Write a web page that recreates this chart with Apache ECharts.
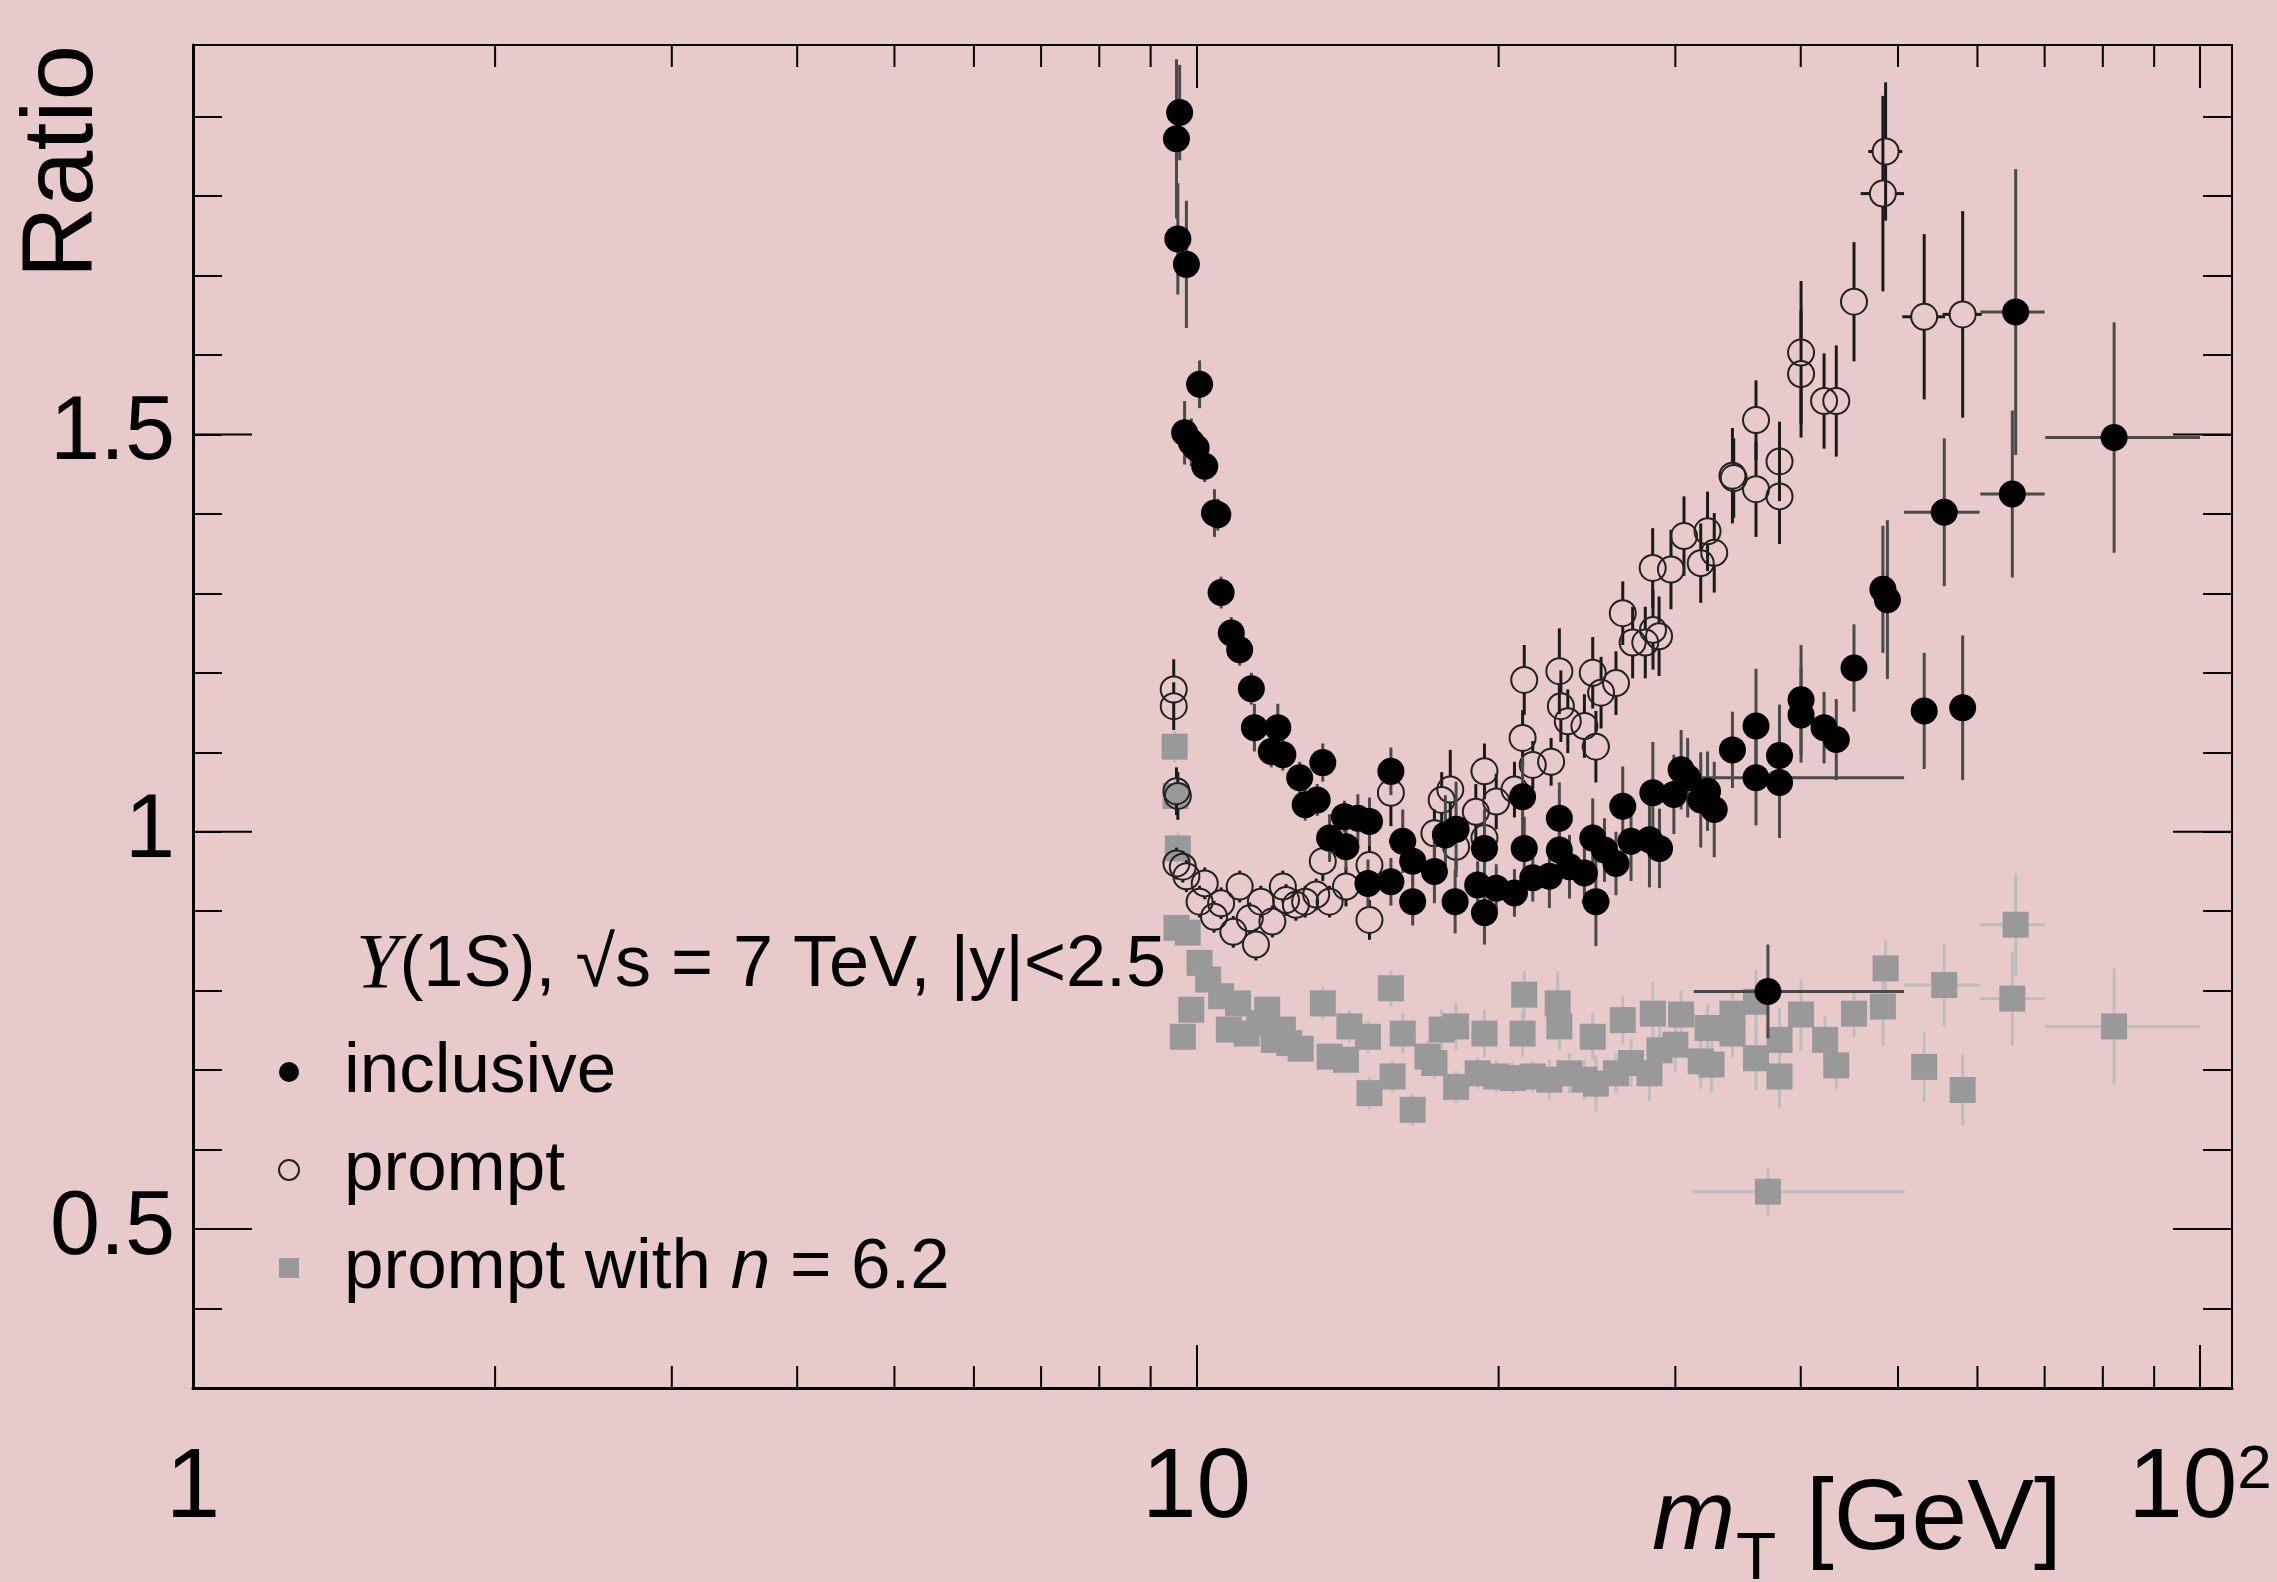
<!DOCTYPE html>
<html><head><meta charset="utf-8">
<script src="https://cdn.jsdelivr.net/npm/echarts@6/dist/echarts.min.js"></script>
<style>html,body{margin:0;padding:0;background:#E8CACA;}#c{width:2277px;height:1582px;}</style>
</head><body><div id="c"></div>
<script>
// rows: [mT, ratio, yErr, xErrLow, xErrHigh]
const inclusive = [
[9.55,1.872,0.10,0.1,0.1],[9.62,1.905,0.06,0.1,0.1],[9.58,1.746,0.07,0.1,0.1],[9.77,1.714,0.08,0.1,0.1],
[10.07,1.563,0.03,0.1,0.1],[9.73,1.502,0.04,0.1,0.1],[9.88,1.490,0.03,0.1,0.1],[9.99,1.483,0.02,0.1,0.1],
[10.19,1.460,0.02,0.1,0.1],[10.42,1.401,0.03,0.1,0.1],[10.50,1.399,0.02,0.1,0.1],[10.58,1.301,0.02,0.1,0.1],
[10.83,1.250,0.02,0.1,0.1],[11.04,1.229,0.02,0.1,0.1],[11.34,1.180,0.02,0.1,0.1],[11.42,1.131,0.03,0.1,0.1],
[12.05,1.131,0.03,0.1,0.1],[11.87,1.101,0.02,0.1,0.1],[12.19,1.097,0.02,0.1,0.1],[13.36,1.087,0.024,0.2,0.2],
[12.67,1.068,0.02,0.1,0.1],[12.83,1.034,0.02,0.1,0.1],[13.19,1.040,0.02,0.1,0.1],[15.62,1.076,0.03,0.2,0.2],
[14.04,1.019,0.02,0.2,0.2],[14.48,1.017,0.03,0.2,0.2],[14.87,1.013,0.03,0.2,0.2],[13.57,0.992,0.03,0.2,0.2],
[14.09,0.981,0.03,0.2,0.2],[14.82,0.935,0.03,0.2,0.2],[15.62,0.937,0.03,0.2,0.2],[16.05,0.988,0.04,0.5,0.5],
[16.42,0.963,0.03,0.3,0.3],[16.42,0.912,0.03,0.3,0.3],[17.26,0.950,0.04,0.3,0.3],[17.70,0.996,0.05,0.3,0.3],
[18.14,1.003,0.06,0.3,0.3],[18.10,0.912,0.04,0.4,0.4],[19.36,0.979,0.05,0.6,0.6],[19.06,0.933,0.03,0.4,0.4],
[19.89,0.929,0.03,0.4,0.4],[19.36,0.898,0.04,0.4,0.4],[20.74,0.923,0.03,0.4,0.4],[21.13,1.044,0.05,0.6,0.6],
[21.21,0.979,0.04,0.6,0.6],[21.63,0.942,0.03,0.5,0.5],[22.47,0.944,0.04,0.5,0.5],[22.99,1.017,0.045,0.6,0.6],
[22.99,0.977,0.04,0.6,0.6],[23.53,0.956,0.04,0.5,0.5],[24.35,0.948,0.04,0.5,0.5],[24.82,0.992,0.05,0.6,0.6],
[25.00,0.912,0.056,0.8,0.8],[25.50,0.977,0.04,0.6,0.6],[26.18,0.960,0.04,0.6,0.6],[26.59,1.032,0.05,0.6,0.6],
[27.10,0.988,0.05,0.6,0.6],[28.49,1.049,0.064,0.8,0.8],[28.27,0.990,0.06,0.7,0.7],[28.93,0.979,0.05,0.7,0.7],
[29.90,1.047,0.05,0.8,0.8],[30.40,1.078,0.05,0.8,0.8],[30.86,1.068,0.05,0.8,0.8],[31.80,1.040,0.06,0.8,0.8],
[32.30,1.051,0.05,0.8,0.8],[32.80,1.028,0.06,0.8,0.8],[34.20,1.103,0.048,0.8,0.8],[36.10,1.133,0.072,1.0,1.0],
[36.10,1.068,0.06,4.8,14.6],[37.10,0.799,0.059,5.8,13.6],[38.10,1.096,0.064,1.0,1.0],[38.10,1.062,0.07,1.0,1.0],
[40.03,1.166,0.069,1.0,1.0],[40.03,1.147,0.06,1.0,1.0],[42.20,1.131,0.045,1.0,1.0],[43.40,1.116,0.051,1.2,1.2],
[45.20,1.206,0.055,1.0,1.0],[48.30,1.305,0.08,1.2,1.2],[48.80,1.292,0.10,1.0,1.0],[53.10,1.152,0.073,1.5,1.5],
[55.60,1.402,0.093,4.9,4.7],[58.00,1.156,0.091,1.5,1.5],[65.00,1.425,0.105,4.6,5.0],[65.50,1.654,0.18,5.1,4.5],
[82.10,1.496,0.145,12.0,17.9]
];
const prompt = [
[9.49,1.179,0.038,0.1,0.1],[9.49,1.158,0.03,0.1,0.1],[9.55,1.051,0.03,0.1,0.1],[9.58,1.045,0.03,0.1,0.1],
[9.55,0.960,0.02,0.1,0.1],[9.69,0.956,0.02,0.1,0.1],[9.77,0.944,0.02,0.1,0.1],[10.19,0.935,0.02,0.1,0.1],
[10.07,0.912,0.02,0.1,0.1],[10.58,0.910,0.02,0.1,0.1],[10.41,0.893,0.02,0.1,0.1],[10.88,0.874,0.02,0.1,0.1],
[11.04,0.931,0.02,0.1,0.1],[11.30,0.891,0.02,0.1,0.1],[11.46,0.858,0.02,0.1,0.1],[11.59,0.912,0.02,0.1,0.1],
[11.90,0.887,0.02,0.1,0.1],[12.19,0.931,0.02,0.1,0.1],[12.28,0.914,0.02,0.1,0.1],[12.56,0.908,0.02,0.1,0.1],
[12.83,0.912,0.02,0.1,0.1],[13.16,0.921,0.02,0.1,0.1],[13.57,0.912,0.02,0.2,0.2],[13.36,0.963,0.025,0.2,0.2],
[14.09,0.931,0.025,0.2,0.2],[14.87,0.889,0.025,0.2,0.2],[14.87,0.958,0.025,0.2,0.2],[15.62,1.049,0.042,0.2,0.2],
[17.26,0.998,0.03,0.4,0.4],[17.55,1.040,0.035,0.5,0.5],[17.90,1.053,0.05,0.4,0.4],[18.14,0.981,0.03,0.4,0.4],
[18.98,1.025,0.035,0.4,0.4],[19.36,1.076,0.035,0.6,0.6],[19.36,0.992,0.035,0.4,0.4],[19.89,1.038,0.035,0.4,0.4],
[20.74,1.053,0.035,0.4,0.4],[21.13,1.118,0.035,0.6,0.6],[21.21,1.191,0.044,0.6,0.6],[21.63,1.084,0.03,0.5,0.5],
[22.56,1.088,0.03,0.5,0.5],[22.99,1.202,0.054,0.6,0.6],[23.07,1.158,0.045,0.6,0.6],[23.44,1.139,0.04,0.5,0.5],
[24.35,1.133,0.04,0.5,0.5],[24.82,1.200,0.045,0.6,0.6],[25.30,1.175,0.045,0.6,0.6],[25.00,1.107,0.045,0.8,0.8],
[26.18,1.187,0.04,0.6,0.6],[26.59,1.275,0.04,0.6,0.6],[27.20,1.238,0.045,0.6,0.6],[28.00,1.238,0.045,0.6,0.6],
[28.50,1.254,0.05,0.7,0.7],[28.90,1.246,0.05,0.7,0.7],[28.48,1.332,0.05,0.8,0.8],[29.70,1.330,0.05,0.8,0.8],
[30.60,1.372,0.05,0.8,0.8],[32.30,1.378,0.05,0.8,0.8],[31.80,1.338,0.05,0.8,0.8],[32.80,1.351,0.05,0.8,0.8],
[34.20,1.448,0.06,0.8,0.8],[34.30,1.445,0.05,0.8,0.8],[36.10,1.518,0.05,1.0,1.0],[36.10,1.431,0.06,1.0,1.0],
[38.10,1.466,0.05,1.0,1.0],[38.10,1.422,0.06,1.0,1.0],[40.03,1.603,0.09,1.0,1.0],[40.03,1.576,0.08,1.0,1.0],
[42.20,1.542,0.06,1.0,1.0],[43.40,1.542,0.07,1.2,1.2],[45.20,1.667,0.075,1.0,1.0],[48.30,1.803,0.123,2.4,2.4],
[48.60,1.856,0.087,1.9,1.9],[53.10,1.648,0.104,2.6,2.6],[58.00,1.651,0.13,2.6,2.6]
];
const promptN62 = [
[9.51,1.107,0.02,0.1,0.1],[9.53,1.045,0.02,0.1,0.1],[9.58,0.979,0.02,0.1,0.1],[9.55,0.879,0.015,0.1,0.1],
[9.80,0.873,0.015,0.1,0.1],[10.07,0.835,0.015,0.1,0.1],[9.69,0.742,0.015,0.1,0.1],[9.88,0.776,0.015,0.1,0.1],
[10.27,0.814,0.015,0.1,0.1],[10.58,0.793,0.015,0.1,0.1],[11.00,0.784,0.015,0.1,0.1],[10.77,0.751,0.015,0.1,0.1],
[11.22,0.746,0.015,0.1,0.1],[11.55,0.759,0.015,0.1,0.1],[11.76,0.776,0.015,0.1,0.1],[11.94,0.738,0.015,0.1,0.1],
[12.19,0.751,0.015,0.1,0.1],[12.37,0.734,0.015,0.1,0.1],[12.70,0.727,0.015,0.1,0.1],[13.36,0.784,0.02,0.2,0.2],
[13.57,0.717,0.015,0.2,0.2],[14.09,0.713,0.015,0.2,0.2],[14.20,0.755,0.02,0.2,0.2],[14.82,0.742,0.02,0.2,0.2],
[14.87,0.671,0.02,0.2,0.2],[15.62,0.803,0.023,0.2,0.2],[15.68,0.692,0.02,0.2,0.2],[16.05,0.746,0.025,0.5,0.5],
[16.42,0.650,0.02,0.3,0.3],[16.99,0.717,0.02,0.3,0.3],[17.26,0.709,0.02,0.3,0.3],[17.55,0.751,0.025,0.4,0.4],
[18.14,0.755,0.03,0.4,0.4],[18.14,0.679,0.02,0.4,0.4],[19.06,0.696,0.02,0.4,0.4],[19.36,0.746,0.03,0.6,0.6],
[19.89,0.692,0.02,0.4,0.4],[20.66,0.690,0.02,0.4,0.4],[21.13,0.746,0.03,0.6,0.6],[21.21,0.795,0.03,0.6,0.6],
[21.63,0.692,0.02,0.5,0.5],[22.47,0.688,0.025,0.5,0.5],[22.90,0.784,0.04,0.6,0.6],[22.99,0.755,0.03,0.6,0.6],
[23.53,0.696,0.025,0.5,0.5],[24.35,0.688,0.025,0.5,0.5],[24.82,0.742,0.03,0.6,0.6],[25.00,0.683,0.035,0.8,0.8],
[26.18,0.696,0.025,0.6,0.6],[26.59,0.763,0.03,0.6,0.6],[27.10,0.709,0.03,0.6,0.6],[28.49,0.771,0.04,0.8,0.8],
[28.27,0.696,0.035,0.7,0.7],[28.93,0.725,0.03,0.7,0.7],[30.40,0.770,0.03,0.8,0.8],[30.00,0.732,0.035,0.8,0.8],
[32.30,0.753,0.03,0.8,0.8],[31.80,0.711,0.035,0.8,0.8],[32.60,0.707,0.035,0.8,0.8],[34.20,0.771,0.03,0.8,0.8],
[34.20,0.746,0.03,0.8,0.8],[36.10,0.786,0.04,1.0,1.0],[36.10,0.715,0.04,1.0,1.0],[38.10,0.738,0.04,1.0,1.0],
[38.10,0.692,0.04,1.0,1.0],[40.03,0.770,0.045,1.0,1.0],[42.30,0.738,0.03,1.0,1.0],[43.40,0.706,0.03,1.2,1.2],
[45.20,0.771,0.03,1.0,1.0],[48.30,0.780,0.05,1.5,1.5],[48.60,0.828,0.035,1.2,1.3],[53.10,0.704,0.044,1.5,1.5],
[55.60,0.807,0.052,4.9,4.7],[58.00,0.675,0.045,1.5,1.5],[65.00,0.790,0.059,4.6,5.0],[65.50,0.883,0.064,5.1,4.5],
[82.10,0.755,0.073,12.0,17.9],[37.10,0.547,0.03,5.9,13.7]
];
const seriesNames = ['inclusive', 'prompt', 'prompt with n = 6.2'];
const xMinorTicks = [2,3,4,5,6,7,8,9,20,30,40,50,60,70,80,90];
const xLabelValues = [1, 10, 100];
const yMajorTicks = [0.5, 1, 1.5];
const yLabels = ['0.5', '1', '1.5'];
const X_MIN = 1, X_MAX = 107.6, Y_MIN = 0.3, Y_MAX = 1.99;

const SANS = '"Liberation Sans", Arial, Helvetica, sans-serif';
const chart = echarts.init(document.getElementById('c'), null, {renderer: 'canvas'});

function errorBars(rows, color, gap, z) {
  return {
    type: 'custom', xAxisIndex: 0, yAxisIndex: 0, z: z, silent: true, clip: true,
    data: rows.map(r => [r[0], r[1], r[2], r[3], r[4]]),
    encode: {x: 0, y: 1},
    renderItem: function (params, api) {
      const x = api.value(0), y = api.value(1), ey = api.value(2), exl = api.value(3), exh = api.value(4);
      const c = api.coord([x, y]);
      const top = api.coord([x, y + ey])[1], bot = api.coord([x, y - ey])[1];
      const left = api.coord([x - exl, y])[0], right = api.coord([x + exh, y])[0];
      const st = {stroke: color, lineWidth: 3};
      const ch = [];
      if (c[1] - gap > top) ch.push({type: 'line', shape: {x1: c[0], y1: top, x2: c[0], y2: c[1] - gap}, style: st});
      if (c[1] + gap < bot) ch.push({type: 'line', shape: {x1: c[0], y1: c[1] + gap, x2: c[0], y2: bot}, style: st});
      if (c[0] - gap > left) ch.push({type: 'line', shape: {x1: left, y1: c[1], x2: c[0] - gap, y2: c[1]}, style: st});
      if (c[0] + gap < right) ch.push({type: 'line', shape: {x1: c[0] + gap, y1: c[1], x2: right, y2: c[1]}, style: st});
      return {type: 'group', children: ch};
    }
  };
}

const tickData = xMinorTicks.map(v => [v, Y_MIN, 0]).concat(yMajorTicks.map(v => [X_MIN, v, 1]));

const option = {
  backgroundColor: '#E8CACA',
  animation: false,
  grid: {left: 193, right: 45, top: 45, bottom: 194, show: false},
  xAxis: [{
    type: 'log', logBase: 10, min: X_MIN, max: X_MAX, position: 'bottom',
    axisLine: {show: true, onZero: false, lineStyle: {color: '#000', width: 3}},
    axisTick: {show: true, inside: true, length: 43, lineStyle: {color: '#000', width: 2}},
    splitLine: {show: false},
    axisLabel: {
      margin: 52,
      formatter: function (v) {
        const l = Math.log10(v);
        if (Math.abs(l - Math.round(l)) > 1e-6) return '';
        const r = Math.round(Math.pow(10, Math.round(l)));
        if (xLabelValues.indexOf(r) < 0) return '';
        return r === 100 ? '{b|10}{s|2}' : '{b|' + r + '}';
      },
      rich: {
        b: {fontSize: 98, lineHeight: 100, color: '#000', fontFamily: SANS},
        s: {fontSize: 62, lineHeight: 40, verticalAlign: 'top', color: '#000', fontFamily: SANS}
      }
    }
  }, {
    type: 'log', logBase: 10, min: X_MIN, max: X_MAX, position: 'top',
    axisLine: {show: true, onZero: false, lineStyle: {color: '#000', width: 2}},
    axisTick: {show: true, inside: true, length: 43, lineStyle: {color: '#000', width: 2}},
    axisLabel: {show: false}, splitLine: {show: false}
  }],
  yAxis: [{
    type: 'value', min: Y_MIN, max: Y_MAX, interval: 0.1, position: 'left',
    axisLine: {show: true, onZero: false, lineStyle: {color: '#000', width: 3}},
    axisTick: {show: true, inside: true, length: 29, lineStyle: {color: '#000', width: 2}},
    splitLine: {show: false},
    axisLabel: {
      margin: 18, fontSize: 90, color: '#000', fontFamily: SANS, padding: [18, 0, 0, 0],
      formatter: function (v) {
        for (let i = 0; i < yMajorTicks.length; i++) if (Math.abs(v - yMajorTicks[i]) < 1e-6) return yLabels[i];
        return '';
      }
    }
  }, {
    type: 'value', min: Y_MIN, max: Y_MAX, interval: 0.1, position: 'right',
    axisLine: {show: true, onZero: false, lineStyle: {color: '#000', width: 2}},
    axisTick: {show: true, inside: true, length: 29, lineStyle: {color: '#000', width: 2}},
    axisLabel: {show: false}, splitLine: {show: false}
  }],
  legend: {
    orient: 'vertical', left: 273, top: 1018, itemGap: 0,
    itemWidth: 100, itemHeight: 20, selectedMode: false, symbolKeepAspect: true,
    data: [
      {name: seriesNames[0], icon: 'circle'},
      {name: seriesNames[1], icon: 'circle'},
      {name: seriesNames[2], icon: 'path://M0,0L10,0L10,10L0,10Z'}
    ],
    formatter: function (name) {
      if (name === seriesNames[2]) return '{t|prompt with }{i|n}{t| = 6.2}';
      return '{t|' + name + '}';
    },
    textStyle: {
      fontSize: 71, lineHeight: 98, color: '#000', fontFamily: SANS,
      rich: {
        t: {fontSize: 71, lineHeight: 98, color: '#000', fontFamily: SANS},
        i: {fontSize: 71, lineHeight: 98, color: '#000', fontFamily: SANS, fontStyle: 'italic'}
      }
    }
  },
  graphic: [
    {type: 'text', x: 356, y: 966, z: 10, silent: true,
     style: {text: '{u|Y}{t|(1S), √s = 7 TeV, |y|<2.5}', verticalAlign: 'middle', align: 'left',
       rich: {
         u: {fontSize: 78, fontFamily: '"Liberation Serif", "Times New Roman", serif', fontStyle: 'italic', fill: '#000'},
         t: {fontSize: 72, fontFamily: SANS, fill: '#000'}
       }}},
    {type: 'text', x: 64, y: 45, rotation: Math.PI / 2, silent: true,
     style: {text: 'Ratio', font: '100px ' + SANS, fill: '#000', align: 'right', verticalAlign: 'middle'}},
    {type: 'text', x: 1652, y: 1521, silent: true,
     style: {text: 'm', font: 'italic 100px ' + SANS, fill: '#000', align: 'left', verticalAlign: 'middle'}},
    {type: 'text', x: 1736, y: 1561, silent: true,
     style: {text: 'T', font: '66px ' + SANS, fill: '#000', align: 'left', verticalAlign: 'middle'}},
    {type: 'text', x: 1806, y: 1521, silent: true,
     style: {text: '[GeV]', font: '100px ' + SANS, fill: '#000', align: 'left', verticalAlign: 'middle'}}
  ],
  series: [
    errorBars(promptN62, '#bdbdbd', 0, 1),
    {type: 'scatter', name: seriesNames[2], symbol: 'rect', symbolSize: 26, z: 2,
     itemStyle: {color: '#999999', opacity: 1}, emphasis: {disabled: true},
     data: promptN62.map(r => [r[0], r[1]])},
    errorBars(prompt, '#1a1a1a', 13, 3),
    {type: 'scatter', name: seriesNames[1], symbol: 'circle', symbolSize: 26, z: 4,
     itemStyle: {color: 'rgba(0,0,0,0)', borderColor: '#222', borderWidth: 2, opacity: 1}, emphasis: {disabled: true},
     data: prompt.map(r => [r[0], r[1]])},
    errorBars(inclusive, '#4a4a4a', 0, 5),
    {type: 'scatter', name: seriesNames[0], symbol: 'circle', symbolSize: 27, z: 6,
     itemStyle: {color: '#000', opacity: 1}, emphasis: {disabled: true},
     data: inclusive.map(r => [r[0], r[1]])},
    {type: 'custom', name: 'ticks', xAxisIndex: 0, yAxisIndex: 0, z: 7, silent: true, clip: false,
     data: tickData, encode: {x: 0, y: 1},
     renderItem: function (params, api) {
       const cs = params.coordSys;
       const st = {stroke: '#000', lineWidth: 2};
       if (api.value(2) === 0) {
         const px = api.coord([api.value(0), Y_MIN])[0];
         return {type: 'group', children: [
           {type: 'line', shape: {x1: px, y1: cs.y + cs.height, x2: px, y2: cs.y + cs.height - 22}, style: st},
           {type: 'line', shape: {x1: px, y1: cs.y, x2: px, y2: cs.y + 22}, style: st}
         ]};
       }
       const py = api.coord([X_MIN, api.value(1)])[1];
       return {type: 'group', children: [
         {type: 'line', shape: {x1: cs.x, y1: py, x2: cs.x + 59, y2: py}, style: st},
         {type: 'line', shape: {x1: cs.x + cs.width - 59, y1: py, x2: cs.x + cs.width, y2: py}, style: st}
       ]};
     }}
  ]
};
chart.setOption(option);
</script>
</body></html>
